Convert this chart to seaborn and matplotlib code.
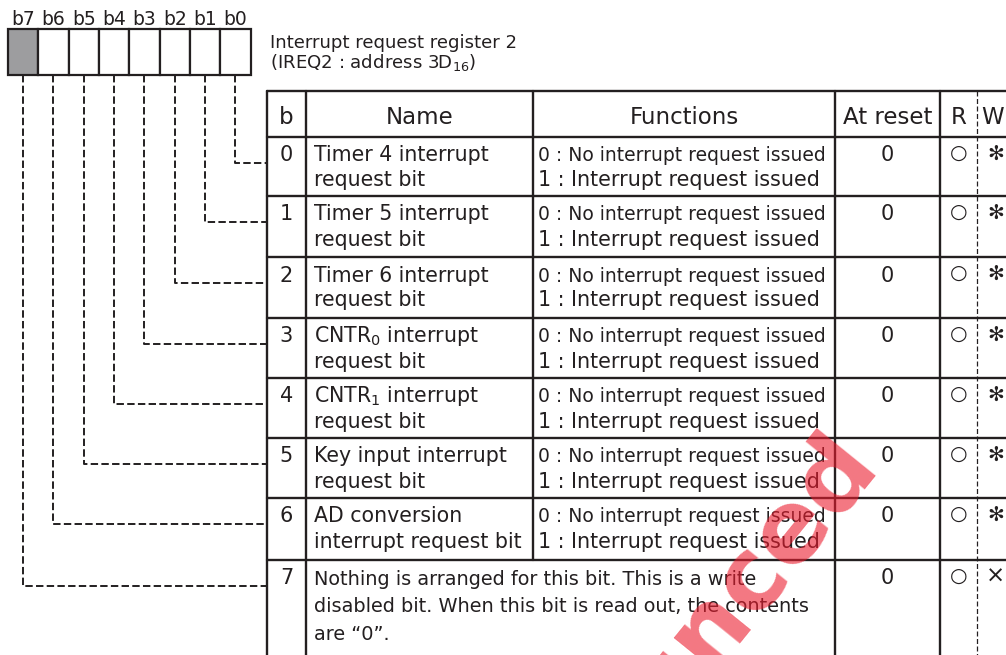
import matplotlib
matplotlib.use("Agg")
import matplotlib.pyplot as plt
import seaborn as sns
import pandas as pd

# ---- data ----
bit_labels = ["b7", "b6", "b5", "b4", "b3", "b2", "b1", "b0"]
bit_numbers = ["0", "1", "2", "3", "4", "5", "6", "7"]
name_line1 = ["Timer 4 interrupt", "Timer 5 interrupt", "Timer 6 interrupt",
              r"CNTR$_\mathregular{0}$ interrupt", r"CNTR$_\mathregular{1}$ interrupt",
              "Key input interrupt", "AD conversion"]
name_line2 = ["request bit", "request bit", "request bit", "request bit",
              "request bit", "request bit", "interrupt request bit"]
func_0 = "0 : No interrupt request issued"
func_1 = "1 : Interrupt request issued"
bit7_text = ["Nothing is arranged for this bit. This is a write",
             "disabled bit. When this bit is read out, the contents",
             "are \u201c0\u201d."]
reset_values = ["0", "0", "0", "0", "0", "0", "0", "0"]
read_marks = ["\u25cb"] * 8
write_marks = ["\u273b"] * 7 + ["\u00d7"]
headers = ["b", "Name", "Functions", "At reset", "R", "W"]
title_lines = ["Interrupt request register 2", r"(IREQ2 : address 3D$_\mathregular{16}$)"]
watermark = "Announced"

# ---- layout (pixels) ----
INK = "#231f20"
cell_edges = [8, 38.3, 68.6, 99, 129.3, 159.6, 190, 220.3, 250.6]
box_top, box_bot = 29, 75
tab_left = 267
row_tops = [136.5, 196, 257, 318, 378, 438, 498, 560]
tab_top = 90.5

sns.set_theme(style="white")
plt.rcParams["font.family"] = ["DejaVu Sans"]
plt.rcParams["mathtext.fontset"] = "dejavusans"

fig, ax = plt.subplots(figsize=(10.06, 6.55), dpi=100)
ax.set_position([0, 0, 1, 1])

# register box
for i in range(8):
    x0, x1 = cell_edges[i], cell_edges[i + 1]
    fc = "#9d9d9f" if i == 0 else "white"
    ax.add_patch(plt.Rectangle((x0, box_top), x1 - x0, box_bot - box_top,
                               facecolor=fc, edgecolor=INK, lw=1.6, zorder=3))
    ax.text((x0 + x1) / 2, 25, bit_labels[i], ha="center", va="baseline",
            fontsize=13.5, color=INK)

# title
ax.text(270, 48, title_lines[0], fontsize=13.1, color=INK, va="baseline")
ax.text(270, 68, title_lines[1], fontsize=13.1, color=INK, va="baseline")

# dashed connectors drawn with seaborn
rows = []
for i in range(8):
    cx = (cell_edges[i] + cell_edges[i + 1]) / 2
    bit = 7 - i
    yc = row_tops[bit] + 26
    rows += [dict(bit=bit, step=0, x=cx, y=box_bot),
             dict(bit=bit, step=1, x=cx, y=yc),
             dict(bit=bit, step=2, x=tab_left, y=yc)]
conn = pd.DataFrame(rows)
sns.lineplot(data=conn, x="x", y="y", units="bit", estimator=None, sort=False,
             color=INK, lw=1.4, linestyle=(0, (3.8, 1.7)), ax=ax, legend=False)
ax.set_xlim(0, 1006)
ax.set_ylim(655, 0)
ax.axis("off")

# table lines
lw = 1.7
ax.plot([tab_left, 1006], [tab_top, tab_top], color=INK, lw=lw)
for y in row_tops:
    ax.plot([tab_left, 1006], [y, y], color=INK, lw=lw)
for x in [267, 306, 835, 940]:
    ax.plot([x, x], [tab_top, 655], color=INK, lw=lw)
ax.plot([533, 533], [tab_top, row_tops[7]], color=INK, lw=lw)
ax.plot([977, 977], [tab_top, 655], color=INK, lw=0.9, linestyle=(0, (4, 2)))

# header
hb = 124
ax.text(286.5, hb, headers[0], ha="center", va="baseline", fontsize=16.5, color=INK)
ax.text(419.5, hb, headers[1], ha="center", va="baseline", fontsize=16.5, color=INK)
ax.text(684, hb, headers[2], ha="center", va="baseline", fontsize=16.5, color=INK)
ax.text(887.5, hb, headers[3], ha="center", va="baseline", fontsize=16.5, color=INK)
ax.text(958.5, hb, headers[4], ha="center", va="baseline", fontsize=16.5, color=INK)
ax.text(981, hb, headers[5], ha="left", va="baseline", fontsize=16.5, color=INK)

# rows
for r in range(8):
    top = row_tops[r]
    b1, b2 = top + 24.5, top + 49.5
    ax.text(286.5, b1, bit_numbers[r], ha="center", va="baseline", fontsize=15, color=INK)
    if r < 7:
        ax.text(314, b1, name_line1[r], va="baseline", fontsize=14.8, color=INK)
        ax.text(314, b2, name_line2[r], va="baseline", fontsize=14.8, color=INK)
        ax.text(538, b1, func_0, va="baseline", fontsize=13.5, color=INK)
        ax.text(538, b2, func_1, va="baseline", fontsize=14.9, color=INK)
    else:
        for k, line in enumerate(bit7_text):
            ax.text(314, top + 25 + 27.5 * k, line, va="baseline", fontsize=13.9, color=INK)
    ax.text(887.5, b1, reset_values[r], ha="center", va="baseline", fontsize=15, color=INK)
    ax.text(959, top + 22, read_marks[r], ha="center", va="baseline", fontsize=14.5, color=INK)
    ax.text(995.5, top + 23, write_marks[r], ha="center", va="baseline",
            fontsize=14.5 if r < 7 else 16.5, fontweight="bold" if r < 7 else "normal",
            color=INK)

# watermark
ax.text(882, 468, watermark, ha="right", va="baseline", rotation=51,
        rotation_mode="anchor", fontsize=72, fontweight="bold",
        color="#ec1c2e", alpha=0.6, zorder=10)

plt.savefig("out.png", dpi=100)
